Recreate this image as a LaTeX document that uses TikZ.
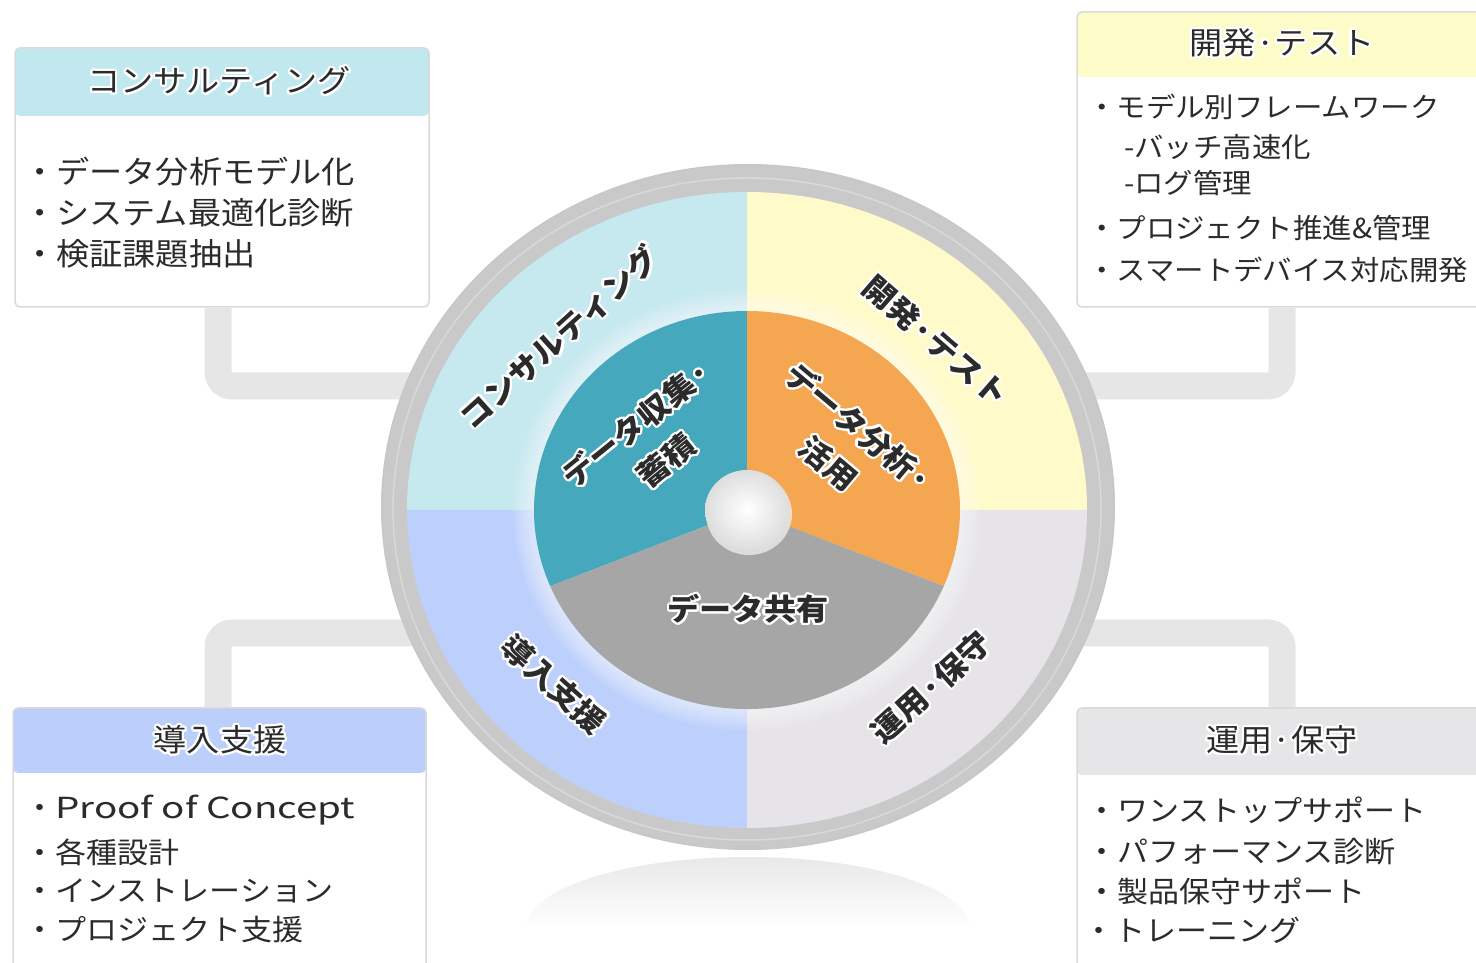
\documentclass[tikz,border=0pt]{standalone}
\usepackage{fontspec}
\setmainfont{Noto Sans CJK JP}[FakeStretch=1.07]
\usepackage{contour}
\contourlength{2.2pt}
\contournumber{24}
\usetikzlibrary{calc}
\definecolor{ringgray}{HTML}{C9C9C9}
\definecolor{ringline}{HTML}{D9D9D9}
\definecolor{qcyan}{HTML}{C5E9EF}
\definecolor{qyellow}{HTML}{FEFAC9}
\definecolor{qblue}{HTML}{BDD0FB}
\definecolor{qgray}{HTML}{E6E4E8}
\definecolor{pteal}{HTML}{45A8BD}
\definecolor{porange}{HTML}{F4A651}
\definecolor{pgray}{HTML}{A6A6A6}
\definecolor{hcyan}{HTML}{C2E8EF}
\definecolor{hyellow}{HTML}{FDFBC8}
\definecolor{hblue}{HTML}{BCCFFB}
\definecolor{hgray}{HTML}{E6E5E8}
\definecolor{boxline}{HTML}{DADADA}
\definecolor{conngray}{HTML}{E6E6E6}
\definecolor{txt}{HTML}{2B2B2B}
\begin{document}
\begin{tikzpicture}[x=1pt,y=1pt,
  box/.style={draw=boxline, line width=1.5pt, fill=white, rounded corners=5pt, inner sep=0pt},
  hdr/.style={font=\fontsize{31}{36}\selectfont, text=txt},
  item/.style={anchor=west, font=\fontsize{29}{34}\selectfont, text=txt, inner sep=0pt},
  itemL/.style={item, font=\fontsize{31}{36}\selectfont},
  itemS/.style={item, font=\fontsize{27.5}{33}\selectfont},
  lab/.style={font=\bfseries\fontsize{30}{47}\selectfont, text=txt, align=center, inner sep=0pt},
  conn/.style={line width=27pt, draw=conngray, rounded corners=14pt},
]
\useasboundingbox (0,0) rectangle (1476,962);
\clip (0,0) rectangle (1476,962);

% ---------- boxes ----------
\node[box, minimum width=414pt, minimum height=259pt,
  path picture={\fill[hcyan] (path picture bounding box.north west) rectangle ([yshift=-68pt]path picture bounding box.north east);}]
  (tl) at (222,784.5) {};
\node[box, minimum width=410pt, minimum height=295pt,
  path picture={\fill[hyellow] (path picture bounding box.north west) rectangle ([yshift=-65pt]path picture bounding box.north east);}]
  (tr) at (1282,802.5) {};
\node[box, minimum width=413pt, minimum height=290pt,
  path picture={\fill[hblue] (path picture bounding box.north west) rectangle ([yshift=-65pt]path picture bounding box.north east);}]
  (bl) at (219.5,109) {};
\node[box, minimum width=410pt, minimum height=290pt,
  path picture={\fill[hgray] (path picture bounding box.north west) rectangle ([yshift=-67pt]path picture bounding box.north east);}]
  (br) at (1282,109) {};

% headers
\node[hdr] (tlh) at (219,880) {\contour{white}{コンサルティング}};
\node[hdr] (trh) at (1282,918) {\contour{white}{開発·テスト}};
\node[hdr] (blh) at (220,221) {\contour{white}{導入支援}};
\node[hdr] (brh) at (1282,221) {\contour{white}{運用·保守}};

% items
\node[itemL] (tl1) at (23,790) {・データ分析モデル化};
\node[itemL] (tl2) at (23,749) {・システム最適化診断};
\node[itemL] (tl3) at (23,708) {・検証課題抽出};

\node[itemS] (tr1) at (1087,855) {・モデル別フレームワーク};
\node[itemS] (tr2) at (1124,815) {-バッチ高速化};
\node[itemS] (tr3) at (1124,779) {-ログ管理};
\node[itemS] (tr4) at (1087,734) {・プロジェクト推進\&管理};
\node[itemS] (tr5) at (1087,692) {・スマートデバイス対応開発};

\node[item] (bl1) at (24,152) {・\scalebox{1.24}[1]{Proof of Concept}};
\node[item] (bl2) at (24,110) {・各種設計};
\node[item] (bl3) at (24,71) {・インストレーション};
\node[item] (bl4) at (24,32) {・プロジェクト支援};

\node[item] (br1) at (1086,152) {・ワンストップサポート};
\node[item] (br2) at (1086,110) {・パフォーマンス診断};
\node[item] (br3) at (1086,71) {・製品保守サポート};
\node[item] (br4) at (1083,32) {・トレーニング};

% ---------- connectors ----------
\coordinate (cTL) at (450,576);
\coordinate (cTR) at (1050,576);
\coordinate (cBL) at (450,329);
\coordinate (cBR) at (1050,329);
\draw[conn] ([xshift=-4pt]tl.south) |- (cTL);
\draw[conn] (tr.south) |- (cTR);
\draw[conn] ([xshift=-1.5pt]bl.north) |- (cBL);
\draw[conn] (br.north) |- (cBR);

% ---------- reflection ----------
\shade[top color=black!9, bottom color=white] (526,34) arc[start angle=180, end angle=0, x radius=222, y radius=71] -- cycle;

% ---------- ring ----------
\coordinate (c) at (747,452);
\fill[ringgray] (748,455) ellipse [x radius=367, y radius=343];
\draw[black!22, line width=1pt] (748,455) ellipse [x radius=366, y radius=342];
\draw[ringline, line width=1.5pt] (747,453) ellipse [x radius=354, y radius=331];

% quadrants
\fill[qcyan]   (c) -- ++(180:340 and 318) arc[start angle=180, end angle=90,  x radius=340, y radius=318] -- cycle;
\fill[qyellow] (c) -- ++(90:340 and 318)  arc[start angle=90,  end angle=0,   x radius=340, y radius=318] -- cycle;
\fill[qblue]   (c) -- ++(180:340 and 318) arc[start angle=180, end angle=270, x radius=340, y radius=318] -- cycle;
\fill[qgray]   (c) -- ++(270:340 and 318) arc[start angle=270, end angle=360, x radius=340, y radius=318] -- cycle;

% glow around inner pie
\foreach \d in {3,6,...,21} {
  \fill[white, opacity=0.09] (c) ellipse [x radius=213+\d, y radius=199+\d];
}

% inner pie
\fill[pteal]   (c) -- ++(90:213 and 199)    arc[start angle=90,    end angle=202.5, x radius=213, y radius=199] -- cycle;
\fill[porange] (c) -- ++(-22.5:213 and 199) arc[start angle=-22.5, end angle=90,    x radius=213, y radius=199] -- cycle;
\fill[pgray]   (c) -- ++(202.5:213 and 199) arc[start angle=202.5, end angle=337.5, x radius=213, y radius=199] -- cycle;

% center ball
\fill[black!8, opacity=0.8] (749,448) ellipse [x radius=43, y radius=41];
\shade[inner color=white, outer color=black!13] (c) ellipse [x radius=42, y radius=40];

% ---------- labels ----------
\node[lab, rotate=42]  (lcon) at (560,624) {\contour{white}{コンサルティング}};
\node[lab, rotate=-41] (ldev) at (935,620) {\contour{white}{開発·テスト}};
\node[lab, rotate=-42] (lint) at (553,277) {\contour{white}{導入支援}};
\node[lab, rotate=42]  (lops) at (932,274) {\contour{white}{運用·保守}};

\node[lab, rotate=39]  (lcol) at (652,519) {\contour{white}{データ収集·}\\\contour{white}{蓄積}};
\node[lab, rotate=-40] (lana) at (843,516) {\contour{white}{データ分析·}\\\contour{white}{活用}};
\node[lab]             (lsha) at (748,352) {\contour{white}{データ共有}};
\end{tikzpicture}
\end{document}
